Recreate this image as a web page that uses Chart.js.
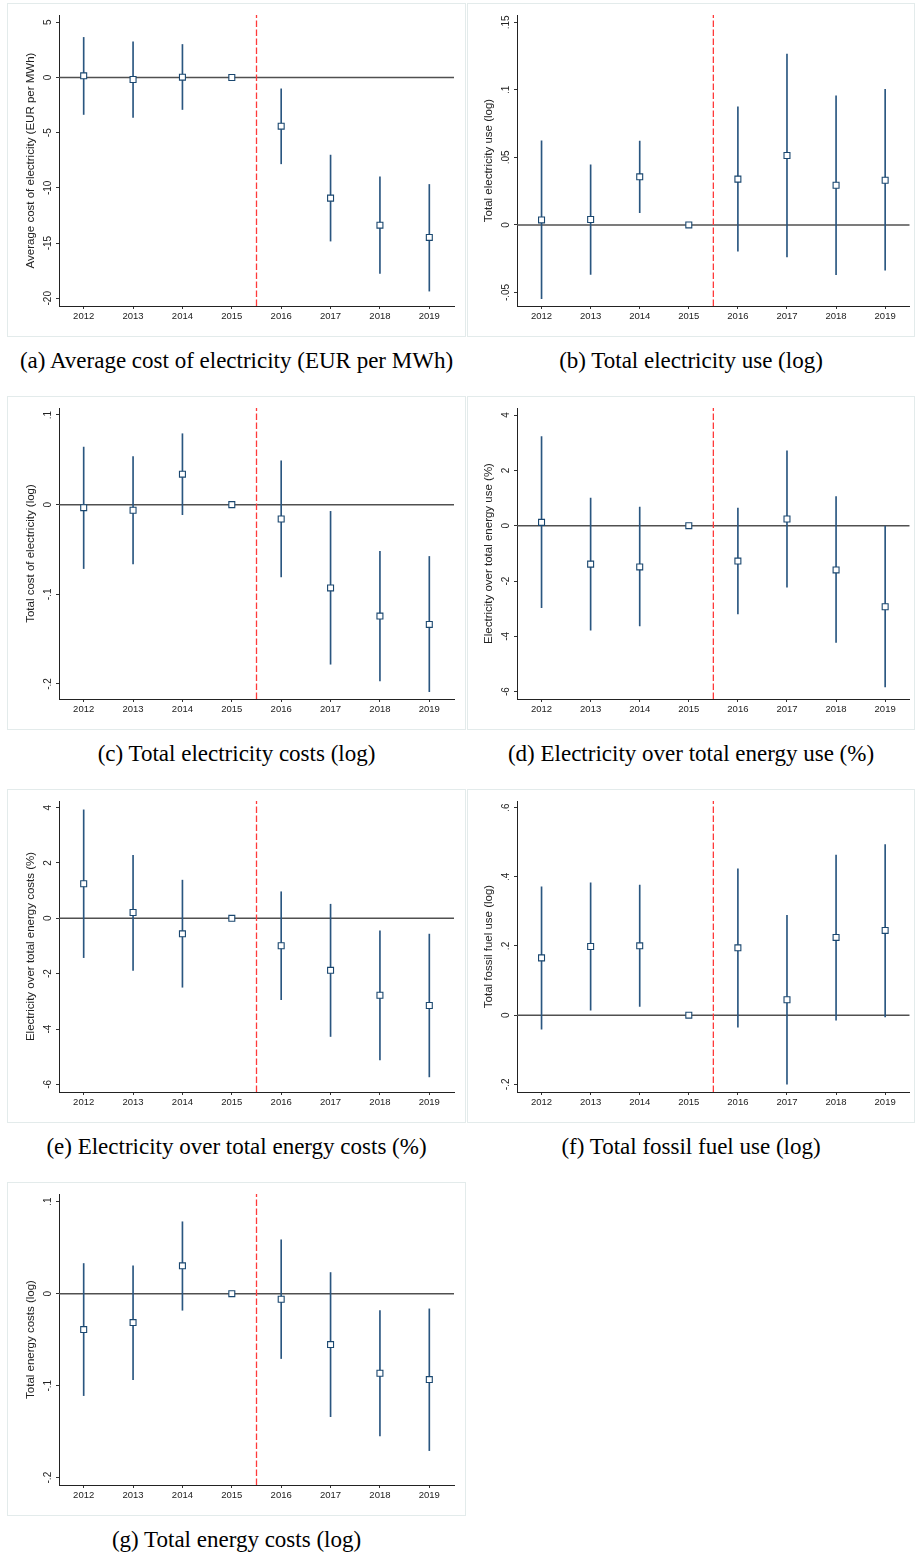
<!DOCTYPE html>
<html>
<head>
<meta charset="utf-8">
<title>Event-study coefficients</title>
<script src="https://cdn.jsdelivr.net/npm/chart.js@4.4.1/dist/chart.umd.min.js"></script>
<style>
  body { margin: 0; background: #fff; width: 915px; height: 1557px; position: relative; overflow: hidden; }
  .frame { position: absolute; border: 1px solid #e3ebeb; box-sizing: border-box; }
  .panel { position: absolute; }
  .caption {
    position: absolute; text-align: center; white-space: nowrap; color: #000;
    font-family: "Liberation Serif", "Times New Roman", serif; font-size: 23px; line-height: 26px;
  }
</style>
</head>
<body>
<script>
// years on the x axis, 2015 is the reference year (no CI)
const years = [2012, 2013, 2014, 2015, 2016, 2017, 2018, 2019];
const policyYear = 2015.5;
const zeroLine = 0;

// (a) Average cost of electricity (EUR per MWh)
const avgCostCoef = [0.15, -0.18, 0.03, 0, -4.41, -10.93, -13.38, -14.49];
const avgCostLo = [-3.35, -3.62, -2.9, null, -7.82, -14.82, -17.75, -19.35];
const avgCostHi = [3.63, 3.23, 2.99, null, -1.03, -7.03, -9.0, -9.69];
const avgCostTicks = [5, 0, -5, -10, -15, -20];
const avgCostTickLabels = ['5', '0', '-5', '-10', '-15', '-20'];

// (b) Total electricity use (log)
const elecUseCoef = [0.0037, 0.004, 0.0356, 0, 0.0339, 0.0514, 0.0294, 0.0331];
const elecUseLo = [-0.0546, -0.0366, 0.0091, null, -0.0195, -0.0237, -0.0368, -0.0334];
const elecUseHi = [0.0623, 0.0445, 0.062, null, 0.0875, 0.1265, 0.0956, 0.1003];
const elecUseTicks = [0.15, 0.1, 0.05, 0, -0.05];
const elecUseTickLabels = ['.15', '.1', '.05', '0', '-.05'];

// (c) Total electricity costs (log)
const elecCostCoef = [-0.0034, -0.0063, 0.034, 0, -0.016, -0.0929, -0.1243, -0.1336];
const elecCostLo = [-0.0713, -0.066, -0.0112, null, -0.0806, -0.178, -0.1966, -0.2086];
const elecCostHi = [0.0642, 0.0537, 0.0791, null, 0.0489, -0.0075, -0.0522, -0.0578];
const elecCostTicks = [0.1, 0, -0.1, -0.2];
const elecCostTickLabels = ['.1', '0', '-.1', '-.2'];

// (d) Electricity over total energy use (%)
const elecShareUseCoef = [0.12, -1.39, -1.49, 0, -1.28, 0.24, -1.6, -2.93];
const elecShareUseLo = [-2.96, -3.78, -3.62, null, -3.19, -2.22, -4.22, -5.83];
const elecShareUseHi = [3.22, 1.0, 0.67, null, 0.64, 2.71, 1.05, 0.0];
const pctTicks = [4, 2, 0, -2, -4, -6];
const pctTickLabels = ['4', '2', '0', '-2', '-4', '-6'];

// (e) Electricity over total energy costs (%)
const elecShareCostCoef = [1.25, 0.21, -0.56, 0, -0.99, -1.88, -2.78, -3.15];
const elecShareCostLo = [-1.42, -1.88, -2.49, null, -2.94, -4.27, -5.12, -5.73];
const elecShareCostHi = [3.92, 2.28, 1.38, null, 0.96, 0.51, -0.45, -0.57];

// (f) Total fossil fuel use (log)
const fossilCoef = [0.1656, 0.1985, 0.2005, 0, 0.1947, 0.0446, 0.2247, 0.245];
const fossilLo = [-0.0407, 0.0145, 0.0252, null, -0.0349, -0.1995, -0.0145, -0.0048];
const fossilHi = [0.371, 0.3826, 0.3758, null, 0.4232, 0.2886, 0.463, 0.493];
const fossilTicks = [0.6, 0.4, 0.2, 0, -0.2];
const fossilTickLabels = ['.6', '.4', '.2', '0', '-.2'];

// (g) Total energy costs (log)
const energyCostCoef = [-0.039, -0.0314, 0.0303, 0, -0.006, -0.0553, -0.0865, -0.0934];
const energyCostLo = [-0.1108, -0.0934, -0.018, null, -0.0705, -0.1337, -0.1547, -0.1706];
const energyCostHi = [0.0328, 0.0303, 0.0782, null, 0.0586, 0.023, -0.0183, -0.0165];
const energyCostTicks = [0.1, 0, -0.1, -0.2];
const energyCostTickLabels = ['.1', '0', '-.1', '-.2'];

const panels = [
  { col: 0, row: 0, title: 'Average cost of electricity (EUR per MWh)', caption: '(a) Average cost of electricity (EUR per MWh)',
    coef: avgCostCoef, lo: avgCostLo, hi: avgCostHi, ticks: avgCostTicks, labels: avgCostTickLabels, yMin: -20.7, yMax: 5.66 },
  { col: 1, row: 0, title: 'Total electricity use (log)', caption: '(b) Total electricity use (log)',
    coef: elecUseCoef, lo: elecUseLo, hi: elecUseHi, ticks: elecUseTicks, labels: elecUseTickLabels, yMin: -0.06, yMax: 0.1554 },
  { col: 0, row: 1, title: 'Total cost of electricity (log)', caption: '(c) Total electricity costs (log)',
    coef: elecCostCoef, lo: elecCostLo, hi: elecCostHi, ticks: elecCostTicks, labels: elecCostTickLabels, yMin: -0.2168, yMax: 0.1078 },
  { col: 1, row: 1, title: 'Electricity over total energy use (%)', caption: '(d) Electricity over total energy use (%)',
    coef: elecShareUseCoef, lo: elecShareUseLo, hi: elecShareUseHi, ticks: pctTicks, labels: pctTickLabels, yMin: -6.265, yMax: 4.254 },
  { col: 0, row: 2, title: 'Electricity over total energy costs (%)', caption: '(e) Electricity over total energy costs (%)',
    coef: elecShareCostCoef, lo: elecShareCostLo, hi: elecShareCostHi, ticks: pctTicks, labels: pctTickLabels, yMin: -6.276, yMax: 4.24 },
  { col: 1, row: 2, title: 'Total fossil fuel use (log)', caption: '(f) Total fossil fuel use (log)',
    coef: fossilCoef, lo: fossilLo, hi: fossilHi, ticks: fossilTicks, labels: fossilTickLabels, yMin: -0.222, yMax: 0.619 },
  { col: 0, row: 3, title: 'Total energy costs (log)', caption: '(g) Total energy costs (log)',
    coef: energyCostCoef, lo: energyCostLo, hi: energyCostHi, ticks: energyCostTicks, labels: energyCostTickLabels, yMin: -0.208, yMax: 0.1084 }
];

const FONT = '"Liberation Sans", Arial, sans-serif';
const NAVY = '#1a476f';
Chart.defaults.font.family = FONT;
Chart.defaults.color = '#222';

// frame geometry per column / row
const colX = [7, 467];
const colW = [459, 448];
const yAxisW = [52, 50];
const rowY = [3, 396, 789, 1182];
const frameH = 334;
const yTickSize = 10;
const yTitleSize = 11.5;

const measure = document.createElement('canvas').getContext('2d');
const textW = (s, px) => { measure.font = px + 'px ' + FONT; return measure.measureText(s).width; };

panels.forEach(p => {
  const x = colX[p.col], y = rowY[p.row], w = colW[p.col], aw = yAxisW[p.col];

  const frame = document.createElement('div');
  frame.className = 'frame';
  Object.assign(frame.style, { left: x + 'px', top: y + 'px', width: w + 'px', height: frameH + 'px' });
  document.body.appendChild(frame);

  const canvas = document.createElement('canvas');
  canvas.className = 'panel';
  canvas.width = w; canvas.height = frameH;
  Object.assign(canvas.style, { left: x + 'px', top: y + 'px', width: w + 'px', height: frameH + 'px' });
  document.body.appendChild(canvas);

  const cap = document.createElement('div');
  cap.className = 'caption';
  cap.textContent = p.caption;
  Object.assign(cap.style, { left: x + 'px', width: w + 'px', top: (y + frameH + 11) + 'px' });
  document.body.appendChild(cap);

  const widest = Math.max(...p.labels.map(l => textW(l, yTickSize)));
  const ciData = years.map((yr, i) => ({ x: yr, y: [p.lo[i], p.hi[i]] })).filter(d => d.y[0] !== null);

  new Chart(canvas, {
    type: 'scatter',
    data: {
      datasets: [
        { type: 'line', data: [{ x: 2011.5, y: zeroLine }, { x: 2019.5, y: zeroLine }],
          borderColor: '#505050', borderWidth: 1.5, pointRadius: 0, order: 4 },
        { type: 'line', data: [{ x: policyYear, y: p.yMin }, { x: policyYear, y: p.yMax }],
          borderColor: '#ff3a3a', borderWidth: 1.3, borderDash: [6.5, 2.5], pointRadius: 0, order: 3 },
        { type: 'bar', data: ciData, backgroundColor: '#2a5680', barThickness: 1, grouped: false, order: 2 },
        { type: 'scatter', data: years.map((yr, i) => ({ x: yr, y: p.coef[i] })),
          pointStyle: 'rect', pointRadius: 4.2, borderWidth: 1.1, borderColor: NAVY, backgroundColor: '#fff', order: 1 }
      ]
    },
    options: {
      responsive: false,
      animation: false,
      events: [],
      layout: { padding: { top: 12, right: w - aw - 395, bottom: 0, left: 0 } },
      plugins: { legend: { display: false }, tooltip: { enabled: false } },
      scales: {
        x: {
          type: 'linear', min: 2011.5, max: 2019.5, offset: false,
          afterBuildTicks: s => { s.ticks = years.map(v => ({ value: v })); },
          afterFit: s => { s.height = 31; },
          ticks: { callback: v => String(v), autoSkip: false, maxRotation: 0, padding: 2, font: { size: 9.5 }, color: '#222' },
          grid: { drawOnChartArea: false, offset: false, tickLength: 3, color: '#333' },
          border: { color: '#222', width: 1 }
        },
        y: {
          type: 'linear', min: p.yMin, max: p.yMax, beginAtZero: false,
          afterBuildTicks: s => { s.ticks = p.ticks.map(v => ({ value: v })); },
          afterFit: s => { s.width = aw; },
          ticks: {
            callback: v => p.labels[p.ticks.indexOf(v)],
            minRotation: 90, maxRotation: 90, crossAlign: 'center',
            padding: 8 - widest / 2, font: { size: yTickSize }, color: '#222'
          },
          grid: { drawOnChartArea: false, tickLength: 3, color: '#333' },
          border: { color: '#222', width: 1 },
          title: {
            display: true, text: p.title, color: '#222', font: { size: yTitleSize },
            padding: { top: aw - 28.5 - yTitleSize * 0.6, bottom: 0 }
          }
        }
      }
    }
  });
});
</script>
</body>
</html>
